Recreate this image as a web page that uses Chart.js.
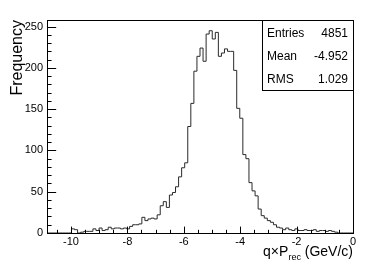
<!DOCTYPE html>
<html>
<head>
<meta charset="utf-8">
<script src="https://cdn.jsdelivr.net/npm/chart.js@4.4.1/dist/chart.umd.min.js"></script>
<style>
  html, body { margin: 0; padding: 0; background: #fff; }
  canvas { display: block; }
</style>
</head>
<body>
<canvas id="histChart" width="382" height="266"></canvas>
<script>
// ─── DATA ──────────────────────────────────────────────────
const xMin  = -10.85;
const xMax  = 0;
const counts = [
  0, 0, 0, 0, 0, 0, 0, 0, 5, 4,
  0, 1, 2, 2, 2, 5, 3, 6, 3, 4,
  7, 5, 6, 6, 5, 6, 5, 8, 10, 10,
  11, 19, 15, 17, 18, 17, 22, 33, 38, 31,
  46, 49, 56, 68, 79, 85, 129, 157, 196, 214,
  224, 208, 241, 245, 235, 243, 214, 218, 223, 220,
  220, 197, 151, 139, 95, 90, 61, 51, 45, 29,
  21, 18, 15, 13, 10, 7, 6, 4, 6, 4,
  3, 5, 3, 3, 4, 3, 3, 4, 2, 3,
  3, 2, 3, 2, 1, 0, 0, 0, 0, 0,
];
const xTicks      = [-10, -8, -6, -4, -2, 0];
const xMinorTicks = [-10.5, -9.5, -9, -8.5, -7.5, -7, -6.5, -5.5, -5, -4.5, -3.5, -3, -2.5, -1.5, -1, -0.5];
const yTicks      = [0, 50, 100, 150, 200, 250];
const yMinorTicks = [10, 20, 30, 40, 60, 70, 80, 90, 110, 120, 130, 140, 160, 170, 180, 190, 210, 220, 230, 240];
const yMax  = 258;
const statLabels = ['Entries', 'Mean', 'RMS'];
const statValues = ['4851', '-4.952', '1.029'];

// bin edges -> step points (value holds until next edge)
const binWidth = (xMax - xMin) / counts.length;
const points = counts.map((c, i) => ({ x: xMin + i * binWidth, y: c }));
points.push({ x: xMax, y: counts[counts.length - 1] });
points.push({ x: xMax, y: 0 });

const FONT = "'Liberation Sans', Arial, sans-serif";

// ─── FRAME, INSIDE TICKS, TITLES, STATS BOX ────────────────
const rootStyle = {
  id: 'rootStyle',
  beforeDraw(chart) {
    const c = chart.ctx;
    c.save();
    c.fillStyle = '#fff';
    c.fillRect(0, 0, chart.width, chart.height);
    c.restore();
  },
  afterDraw(chart) {
    const c = chart.ctx;
    const a = chart.chartArea;
    const xs = chart.scales.x, ys = chart.scales.y;
    c.save();
    c.strokeStyle = '#000';
    c.lineWidth = 1;

    // frame
    c.strokeRect(Math.round(a.left) + 0.5, Math.round(a.top) + 0.5,
                 Math.round(a.right - a.left), Math.round(a.bottom - a.top));

    // ticks pointing inward
    const xLen = 0.03 * (a.bottom - a.top), yLen = 0.03 * (a.right - a.left);
    c.beginPath();
    xTicks.forEach(v => { const p = Math.round(xs.getPixelForValue(v)) + 0.5; c.moveTo(p, a.bottom); c.lineTo(p, a.bottom - xLen); });
    xMinorTicks.forEach(v => { const p = Math.round(xs.getPixelForValue(v)) + 0.5; c.moveTo(p, a.bottom); c.lineTo(p, a.bottom - xLen / 2); });
    yTicks.forEach(v => { const p = Math.round(ys.getPixelForValue(v)) + 0.5; c.moveTo(a.left, p); c.lineTo(a.left + yLen, p); });
    yMinorTicks.forEach(v => { const p = Math.round(ys.getPixelForValue(v)) + 0.5; c.moveTo(a.left, p); c.lineTo(a.left + yLen / 2, p); });
    c.stroke();

    c.fillStyle = '#000';
    // y title
    c.save();
    c.translate(18, a.top);
    c.rotate(-Math.PI / 2);
    c.font = `16px ${FONT}`;
    c.textAlign = 'right';
    c.textBaseline = 'middle';
    c.fillText('Frequency', 0, 0);
    c.restore();

    // x title  q×P_rec (GeV/c), right aligned at frame end
    const base = 256;
    const big = `14px ${FONT}`, small = `9px ${FONT}`;
    c.textBaseline = 'alphabetic';
    c.textAlign = 'left';
    c.font = big;   const w1 = c.measureText('q\u00d7P').width, w3 = c.measureText(' (GeV/c)').width;
    c.font = small; const w2 = c.measureText('rec').width;
    let x0 = a.right - (w1 + w2 + w3);
    c.font = big;   c.fillText('q\u00d7P', x0, base);
    c.font = small; c.fillText('rec', x0 + w1, base + 4);
    c.font = big;   c.fillText(' (GeV/c)', x0 + w1 + w2, base);

    // stats box
    const bw = 91, bh = 70;
    const bx = Math.round(a.right - bw), by = Math.round(a.top);
    c.fillStyle = '#fff';
    c.fillRect(bx, by, bw, bh);
    c.strokeRect(bx + 0.5, by + 0.5, bw, bh);
    c.fillStyle = '#000';
    c.font = `12px ${FONT}`;
    c.textBaseline = 'middle';
    statLabels.forEach((lab, i) => {
      const yy = by + 13.5 + i * 23.2;
      c.textAlign = 'left';  c.fillText(lab, bx + 5, yy);
      c.textAlign = 'right'; c.fillText(statValues[i], bx + bw - 5, yy);
    });
    c.restore();
  },
};

// ─── CHART ─────────────────────────────────────────────────
new Chart(document.getElementById('histChart'), {
  type: 'line',
  data: {
    datasets: [{
      data: points,
      stepped: 'before',
      borderColor: '#2a2a2a',
      borderWidth: 1,
      pointRadius: 0,
      fill: false,
    }],
  },
  options: {
    responsive: false,
    animation: false,
    devicePixelRatio: 1,
    layout: { padding: { top: 20, right: 29, left: 0, bottom: 0 } },
    plugins: { legend: { display: false }, tooltip: { enabled: false } },
    scales: {
      x: {
        type: 'linear', min: xMin, max: xMax,
        grid: { display: false, drawTicks: false, tickLength: 0 }, border: { display: false },
        afterBuildTicks: s => { s.ticks = xTicks.map(v => ({ value: v })); },
        afterFit: s => { s.height = 33; },
        ticks: { color: '#000', font: { family: FONT, size: 11 }, padding: 2, maxRotation: 0, autoSkip: false },
      },
      y: {
        type: 'linear', min: 0, max: yMax,
        grid: { display: false, drawTicks: false, tickLength: 0 }, border: { display: false },
        afterBuildTicks: s => { s.ticks = yTicks.map(v => ({ value: v })); },
        afterFit: s => { s.width = 47; },
        ticks: { color: '#000', font: { family: FONT, size: 11 }, padding: 4 },
      },
    },
  },
  plugins: [rootStyle],
});
</script>
</body>
</html>
